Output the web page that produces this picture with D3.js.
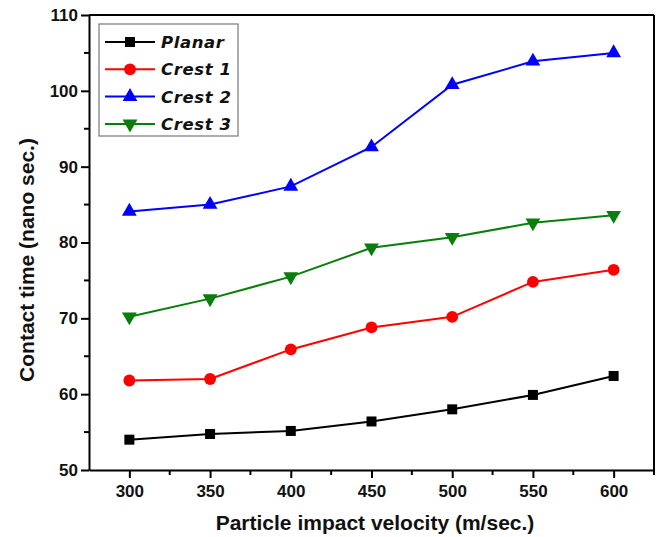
<!DOCTYPE html>
<html>
<head>
<meta charset="utf-8">
<script src="https://cdn.jsdelivr.net/npm/d3@7"></script>
<style>
  body { margin: 0; background: #fff; }
  svg { display: block; }
</style>
</head>
<body>
<div id="chart"></div>
<script>
const width = 659;
const height = 537;
const margin = { top: 15, right: 5, bottom: 67, left: 89 };

const velocities = [300, 350, 400, 450, 500, 550, 600];
const planar = [54.0, 54.75, 55.15, 56.4, 58.0, 59.9, 62.4];
const crest1 = [61.8, 62.0, 65.9, 68.8, 70.2, 74.8, 76.4];
const crest2 = [84.1, 85.0, 87.4, 92.6, 100.8, 103.9, 105.0];
const crest3 = [70.2, 72.6, 75.5, 79.3, 80.7, 82.6, 83.6];
const xTicks = [300, 350, 400, 450, 500, 550, 600];
const yTicks = [50, 60, 70, 80, 90, 100, 110];

const series = [
  { name: 'Planar', values: planar, color: '#000000', symbol: 'square' },
  { name: 'Crest 1', values: crest1, color: '#ff0000', symbol: 'circle' },
  { name: 'Crest 2', values: crest2, color: '#0000ff', symbol: 'up' },
  { name: 'Crest 3', values: crest3, color: '#0a7d0a', symbol: 'down' }
];

const svg = d3.select('#chart')
  .append('svg')
  .attr('width', width)
  .attr('height', height);

const x = d3.scaleLinear()
  .domain([275, 625])
  .range([margin.left, width - margin.right]);

const y = d3.scaleLinear()
  .domain([50, 110])
  .range([height - margin.bottom, margin.top]);

const x0 = margin.left, x1 = width - margin.right;
const y0 = height - margin.bottom, y1 = margin.top;

// frame
svg.append('line').attr('x1', x0).attr('x2', x1).attr('y1', y1).attr('y2', y1)
  .attr('stroke', '#000').attr('stroke-width', 2);
svg.append('line').attr('x1', x1).attr('x2', x1).attr('y1', y1).attr('y2', y0)
  .attr('stroke', '#000').attr('stroke-width', 2);

// minor ticks
const xMinor = d3.range(325, 626, 50);
const yMinor = d3.range(55, 110, 10);
svg.append('g')
  .selectAll('line')
  .data(xMinor)
  .join('line')
  .attr('x1', d => x(d)).attr('x2', d => x(d))
  .attr('y1', y0).attr('y2', y0 + 5)
  .attr('stroke', '#000').attr('stroke-width', 2);
svg.append('g')
  .selectAll('line')
  .data(yMinor)
  .join('line')
  .attr('x1', x0 - 5).attr('x2', x0)
  .attr('y1', d => y(d)).attr('y2', d => y(d))
  .attr('stroke', '#000').attr('stroke-width', 2);

const xAxisG = svg.append('g')
  .attr('transform', `translate(0, ${y0})`)
  .call(d3.axisBottom(x).tickValues(xTicks).tickSize(8).tickPadding(7).tickSizeOuter(0));

const yAxisG = svg.append('g')
  .attr('transform', `translate(${x0}, 0)`)
  .call(d3.axisLeft(y).tickValues(yTicks).tickSize(8).tickPadding(3).tickSizeOuter(0));

[xAxisG, yAxisG].forEach(g => {
  g.select('.domain').attr('stroke-width', 2);
  g.selectAll('.tick line').attr('stroke-width', 2);
  g.selectAll('text')
    .attr('font-family', 'Liberation Sans, Arial, sans-serif')
    .attr('font-weight', 'bold')
    .attr('font-size', 17)
    .attr('fill', '#111');
});

// axis titles
svg.append('text')
  .text('Particle impact velocity (m/sec.)')
  .attr('x', 375)
  .attr('y', 530)
  .attr('text-anchor', 'middle')
  .attr('font-family', 'Liberation Sans, Arial, sans-serif')
  .attr('font-weight', 'bold')
  .attr('font-size', 21)
  .attr('fill', '#111');

svg.append('text')
  .text('Contact time (nano sec.)')
  .attr('transform', `translate(34, 260) rotate(-90)`)
  .attr('text-anchor', 'middle')
  .attr('font-family', 'Liberation Sans, Arial, sans-serif')
  .attr('font-weight', 'bold')
  .attr('font-size', 21)
  .attr('fill', '#111');

const symbolOf = s => {
  if (s === 'square') return d3.symbol(d3.symbolSquare, 100)();
  if (s === 'circle') return d3.symbol(d3.symbolCircle, 110)();
  return d3.symbol(d3.symbolTriangle, 95)();
};

const line = d3.line()
  .x((d, i) => x(velocities[i]))
  .y(d => y(d));

series.forEach(s => {
  svg.append('path')
    .datum(s.values)
    .attr('d', line)
    .attr('fill', 'none')
    .attr('stroke', s.color)
    .attr('stroke-width', 2);

  svg.append('g')
    .selectAll('path')
    .data(s.values)
    .join('path')
    .attr('d', symbolOf(s.symbol))
    .attr('transform', (d, i) => `translate(${x(velocities[i])}, ${y(d)})${s.symbol === 'down' ? ' rotate(180)' : ''}`)
    .attr('fill', s.color);
});

// LEGEND
const legend = svg.append('g');
legend.append('rect')
  .attr('x', 99).attr('y', 24)
  .attr('width', 139).attr('height', 112)
  .attr('fill', '#fff')
  .attr('stroke', '#777')
  .attr('stroke-width', 1.2);

const rows = legend.selectAll('g.row')
  .data(series)
  .join('g')
  .attr('class', 'row')
  .attr('transform', (d, i) => `translate(0, ${42 + i * 27.3})`);

rows.append('line')
  .attr('x1', 105).attr('x2', 155)
  .attr('stroke', d => d.color)
  .attr('stroke-width', 2);

rows.append('path')
  .attr('d', d => symbolOf(d.symbol))
  .attr('transform', d => `translate(130, 0)${d.symbol === 'down' ? ' rotate(180)' : ''}`)
  .attr('fill', d => d.color);

rows.append('text')
  .text(d => d.name)
  .attr('x', 161)
  .attr('y', 6)
  .attr('font-family', 'DejaVu Sans, Verdana, sans-serif')
  .attr('font-style', 'italic')
  .attr('font-weight', 'bold')
  .attr('font-size', 16.5)
  .attr('letter-spacing', 0.6)
  .attr('fill', '#111');
</script>
</body>
</html>
